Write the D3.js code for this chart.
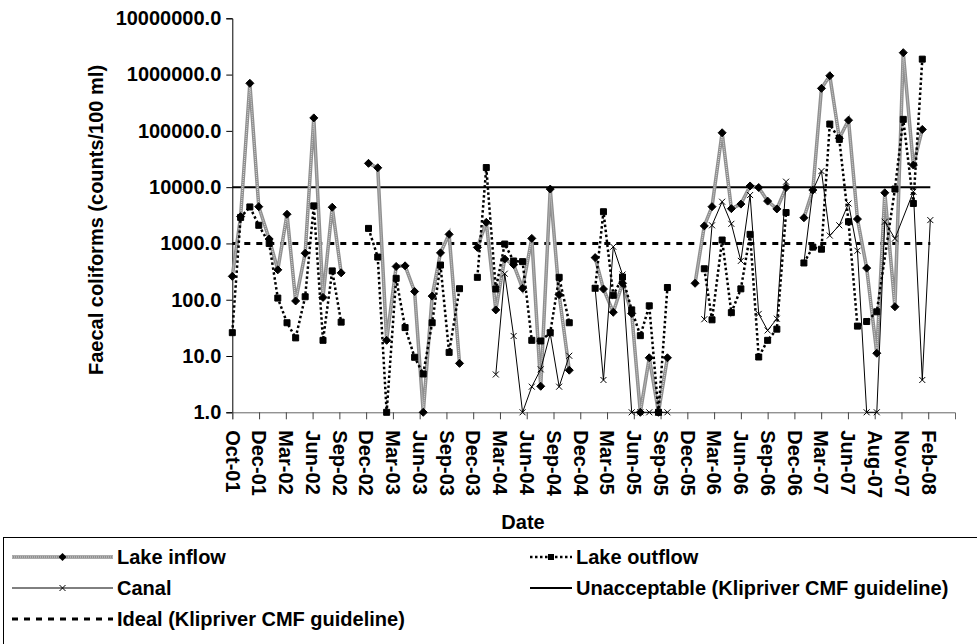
<!DOCTYPE html>
<html>
<head>
<meta charset="utf-8">
<script src="https://cdn.jsdelivr.net/npm/d3@7/dist/d3.min.js"></script>
<style>
  body { margin: 0; background: #fff; }
  svg text { font-family: Arial, "Liberation Sans", sans-serif; font-weight: bold; fill: #000; }
</style>
</head>
<body>
<svg id="chart" width="977" height="644"></svg>
<script>
// sampling dates (rows where every series is empty are months with no sampling -> line breaks)
const sampleDates = [
  "2001-10-01","2001-10-29","2001-11-29","2001-12-29","2002-02-02","2002-03-03","2002-04-03","2002-05-02","2002-06-03","2002-07-02","2002-08-02","2002-09-02","2002-10-02",
  "2002-11-15",
  "2003-01-02","2003-02-02","2003-03-04","2003-04-05","2003-05-05","2003-06-06","2003-07-05","2003-08-04","2003-09-01","2003-09-30","2003-11-04",
  "2003-12-05",
  "2004-01-03","2004-02-02","2004-03-05","2004-04-04","2004-05-04","2004-06-03","2004-07-04","2004-08-03","2004-09-04","2004-10-04","2004-11-07",
  "2004-12-20",
  "2005-02-02","2005-03-02","2005-04-04","2005-05-05","2005-06-05","2005-07-04","2005-08-03","2005-09-03","2005-10-03",
  "2005-11-20",
  "2006-01-04","2006-02-04","2006-03-02","2006-04-05","2006-05-06","2006-06-07","2006-07-08","2006-08-06","2006-09-05","2006-10-06","2006-11-06",
  "2006-12-06",
  "2007-01-05","2007-02-04","2007-03-05","2007-04-02","2007-05-04","2007-06-04","2007-07-04","2007-08-04","2007-09-07","2007-10-04","2007-11-07","2007-12-05","2008-01-08","2008-02-07","2008-03-05"
];

const lakeInflow = [
  260, 3000, 700000, 4500, 1200, 340, 3300, 95, 670, 170000, 110, 4400, 300,
  null,
  26500, 22100, 19, 390, 400, 140, 1, 116, 680, 1450, 7.4,
  null,
  850, 2370, 66, 530, 420, 160, 1230, 2.9, 9250, 123, 5.6,
  null,
  560, 155, 60, 196, 57, 1, 9.3, 1, 9.3,
  null,
  196, 2050, 4500, 92500, 4150, 5000, 10500, 9850, 5650, 4100, 9850,
  null,
  2860, 8890, 569000, 952000, 74000, 155000, 2710, 365, 11.2, 7950, 75, 2450000, 24700, 106000, null
];

const lakeOutflow = [
  26, 2900, 4450, 2100, 1000, 107, 39, 21, 113, 4650, 19, 325, 40,
  null,
  1850, 573, 1, 240, 32, 9.5, 4.8, 39, 413, 11.6, 157,
  null,
  250, 22300, 155, 975, 487, 475, 19, 18.5, 26, 250, 39,
  null,
  160, 3660, 120, 253, 66, 23, 78, 1, 165,
  null,
  null, 355, 44, 1150, 59, 156, 1450, 9.6, 19, 30, 3540,
  null,
  450, 860, 790, 132000, 70600, 2430, 34, 41, 61, null, 9250, 160000, 5130, 1880000, null
];

const canal = [
  null, null, null, null, null, null, null, null, null, null, null, null, null,
  null,
  null, null, null, null, null, null, null, null, null, null, null,
  null,
  null, null, 4.7, 290, 22.7, 1, 2.85, 5.8, 25, 2.85, 10.1,
  null,
  160, 3.75, 874, 280, 1, 1, 1, 1, 1,
  null,
  null, 45, 2100, 5510, 2230, 490, 7240, 56, 28.5, 46, 12500,
  null,
  450, 8800, 19300, 1380, 2100, 5130, 742, 1, 1, 2430, 1220, null, 8300, 3.75, 2600
];

const guidelines = [
  {name: "Unacceptable (Klipriver CMF guideline)", value: 10000},
  {name: "Ideal (Klipriver CMF guideline)", value: 1000}
];

const yTicks = [1, 10, 100, 1000, 10000, 100000, 1000000, 10000000];
const axisStart = "2001-10-01";   // ticks every 90 days from here
const tickStepDays = 90;
const tickCount = 27;
const axisDays = 2430;

let svg = d3.select("#chart");
let parse = d3.utcParse("%Y-%m-%d");
let start = parse(axisStart);

let margin = {left: 232.3, right: 22, top: 18.3, bottom: 412.3};

let x = d3.scaleUtc()
    .domain([start, d3.utcDay.offset(start, axisDays)])
    .range([margin.left, 977 - margin.right]);

let y = d3.scaleLog()
    .domain([1, 1e7])
    .range([margin.bottom, margin.top]);

let rows = sampleDates.map(function (d, i) {
    return {date: parse(d), inflow: lakeInflow[i], outflow: lakeOutflow[i], canal: canal[i]};
});

/* a row with nothing in it is a real break; a single missing value is stepped over */
function seriesPoints(key) {
    return rows.filter(function (r) {
        let empty = r.inflow == null && r.outflow == null && r.canal == null;
        return r[key] != null || empty;
    }).map(function (r) { return {date: r.date, v: r[key]}; });
}

let line = d3.line()
    .defined(function (d) { return d.v != null; })
    .x(function (d) { return x(d.date); })
    .y(function (d) { return y(d.v); });

const diamond = "M0,-4L4,0L0,4L-4,0Z";
const square = "M-3,-3h6v6h-6Z";
const cross = "M-3,-3L3,3M3,-3L-3,3";

/* guideline lines run from the first to the last sampling date */
let lastDate = rows[rows.length - 1].date;
svg.append("line")
    .attr("x1", x(start)).attr("x2", x(lastDate))
    .attr("y1", y(guidelines[0].value)).attr("y2", y(guidelines[0].value))
    .attr("stroke", "#000").attr("stroke-width", 2);
svg.append("line")
    .attr("x1", x(start)).attr("x2", x(lastDate))
    .attr("y1", y(guidelines[1].value)).attr("y2", y(guidelines[1].value))
    .attr("stroke", "#000").attr("stroke-width", 3)
    .attr("stroke-dasharray", "6,6");

// axes
let yAxis = d3.axisLeft(y)
    .tickValues(yTicks)
    .tickFormat(d3.format(".1f"))
    .tickSizeOuter(0)
    .tickSize(6)
    .tickPadding(5);

let gy = svg.append("g")
    .attr("transform", "translate(" + margin.left + ",0)")
    .call(yAxis);
gy.selectAll("text").attr("font-size", 20).style("font-family", null);
gy.select(".domain").attr("stroke", "#000");

let xTickDates = d3.range(tickCount).map(function (k) { return d3.utcDay.offset(start, k * tickStepDays); });

let xAxis = d3.axisBottom(x)
    .tickValues(xTickDates)
    .tickFormat(d3.utcFormat("%b-%y"))
    .tickSizeOuter(0)
    .tickSize(7);

let gx = svg.append("g")
    .attr("transform", "translate(0," + margin.bottom + ")")
    .call(xAxis);
gx.select(".domain").attr("stroke", "#666");
gx.selectAll(".tick line").attr("stroke", "#444");
gx.selectAll("text")
    .attr("font-size", 20)
    .attr("text-anchor", "start")
    .attr("transform", "rotate(90)")
    .attr("x", 18)
    .attr("y", 0)
    .attr("dy", "0.36em");

svg.append("text")
    .attr("x", 523)
    .attr("y", 529)
    .attr("text-anchor", "middle")
    .attr("font-size", 20)
    .text("Date");

svg.append("text")
    .attr("transform", "translate(103,220) rotate(-90)")
    .attr("text-anchor", "middle")
    .attr("font-size", 20)
    .text("Faecal coliforms (counts/100 ml)");

// series
function drawInflowLine(sel, pathData) {
    sel.append("path").attr("d", pathData).attr("fill", "none")
        .attr("stroke", "#8f8f8f").attr("stroke-width", 3.5);
    sel.append("path").attr("d", pathData).attr("fill", "none")
        .attr("stroke", "#d8d8d8").attr("stroke-width", 1).attr("stroke-dasharray", "1,1");
}

let inflowPts = seriesPoints("inflow");
let outflowPts = seriesPoints("outflow");
let canalPts = seriesPoints("canal");

let plot = svg.append("g");

drawInflowLine(plot.append("g"), line(inflowPts));

plot.append("path")
    .attr("d", line(outflowPts))
    .attr("fill", "none")
    .attr("stroke", "#000")
    .attr("stroke-width", 2.5)
    .attr("stroke-dasharray", "2.5,2.5");

plot.append("path")
    .attr("d", line(canalPts))
    .attr("fill", "none")
    .attr("stroke", "#000")
    .attr("stroke-width", 1);

function addMarkers(pts, shape, cls, isCross) {
    plot.selectAll("path." + cls)
        .data(pts.filter(function (d) { return d.v != null; }))
        .enter()
        .append("path")
        .attr("class", cls)
        .attr("d", shape)
        .attr("transform", function (d) { return "translate(" + x(d.date) + "," + y(d.v) + ")"; })
        .attr("fill", isCross ? "none" : "#000")
        .attr("stroke", "#000")
        .attr("stroke-width", 1);
}

addMarkers(inflowPts, diamond, "m-in", false);
addMarkers(outflowPts, square, "m-out", false);
addMarkers(canalPts, cross, "m-canal", true);

// legend
let legend = svg.append("g");
legend.append("rect")
    .attr("x", 3.5).attr("y", 537.5)
    .attr("width", 1000).attr("height", 120)
    .attr("fill", "#fff").attr("stroke", "#000").attr("stroke-width", 1);

let legendItems = [
    {name: "Lake inflow", col: 0, row: 0, kind: "inflow"},
    {name: "Lake outflow", col: 1, row: 0, kind: "outflow"},
    {name: "Canal", col: 0, row: 1, kind: "canal"},
    {name: guidelines[0].name, col: 1, row: 1, kind: "unacc"},
    {name: guidelines[1].name, col: 0, row: 2, kind: "ideal"}
];
let colX = [[12, 113], [530, 572]];
let rowY = [557, 588, 619];

legendItems.forEach(function (item) {
    let x1 = colX[item.col][0], x2 = colX[item.col][1], ly = rowY[item.row];
    let g = legend.append("g");
    let mid = (x1 + x2) / 2;
    let seg = "M" + x1 + "," + ly + "L" + x2 + "," + ly;
    if (item.kind === "inflow") {
        drawInflowLine(g, seg);
        g.append("path").attr("d", diamond).attr("transform", "translate(" + mid + "," + ly + ")").attr("fill", "#000");
    } else if (item.kind === "outflow") {
        g.append("path").attr("d", seg).attr("stroke", "#000").attr("stroke-width", 2.5).attr("stroke-dasharray", "2.5,2.5");
        g.append("path").attr("d", square).attr("transform", "translate(" + mid + "," + ly + ")").attr("fill", "#000");
    } else if (item.kind === "canal") {
        g.append("path").attr("d", seg).attr("stroke", "#000").attr("stroke-width", 1);
        g.append("path").attr("d", cross).attr("transform", "translate(" + mid + "," + ly + ")").attr("stroke", "#000").attr("fill", "none");
    } else if (item.kind === "unacc") {
        g.append("path").attr("d", seg).attr("stroke", "#000").attr("stroke-width", 2);
    } else {
        g.append("path").attr("d", seg).attr("stroke", "#000").attr("stroke-width", 3).attr("stroke-dasharray", "6,6");
    }
    g.append("text")
        .attr("x", x2 + 4)
        .attr("y", ly + 7)
        .attr("font-size", 20)
        .text(item.name);
});
</script>
</body>
</html>
